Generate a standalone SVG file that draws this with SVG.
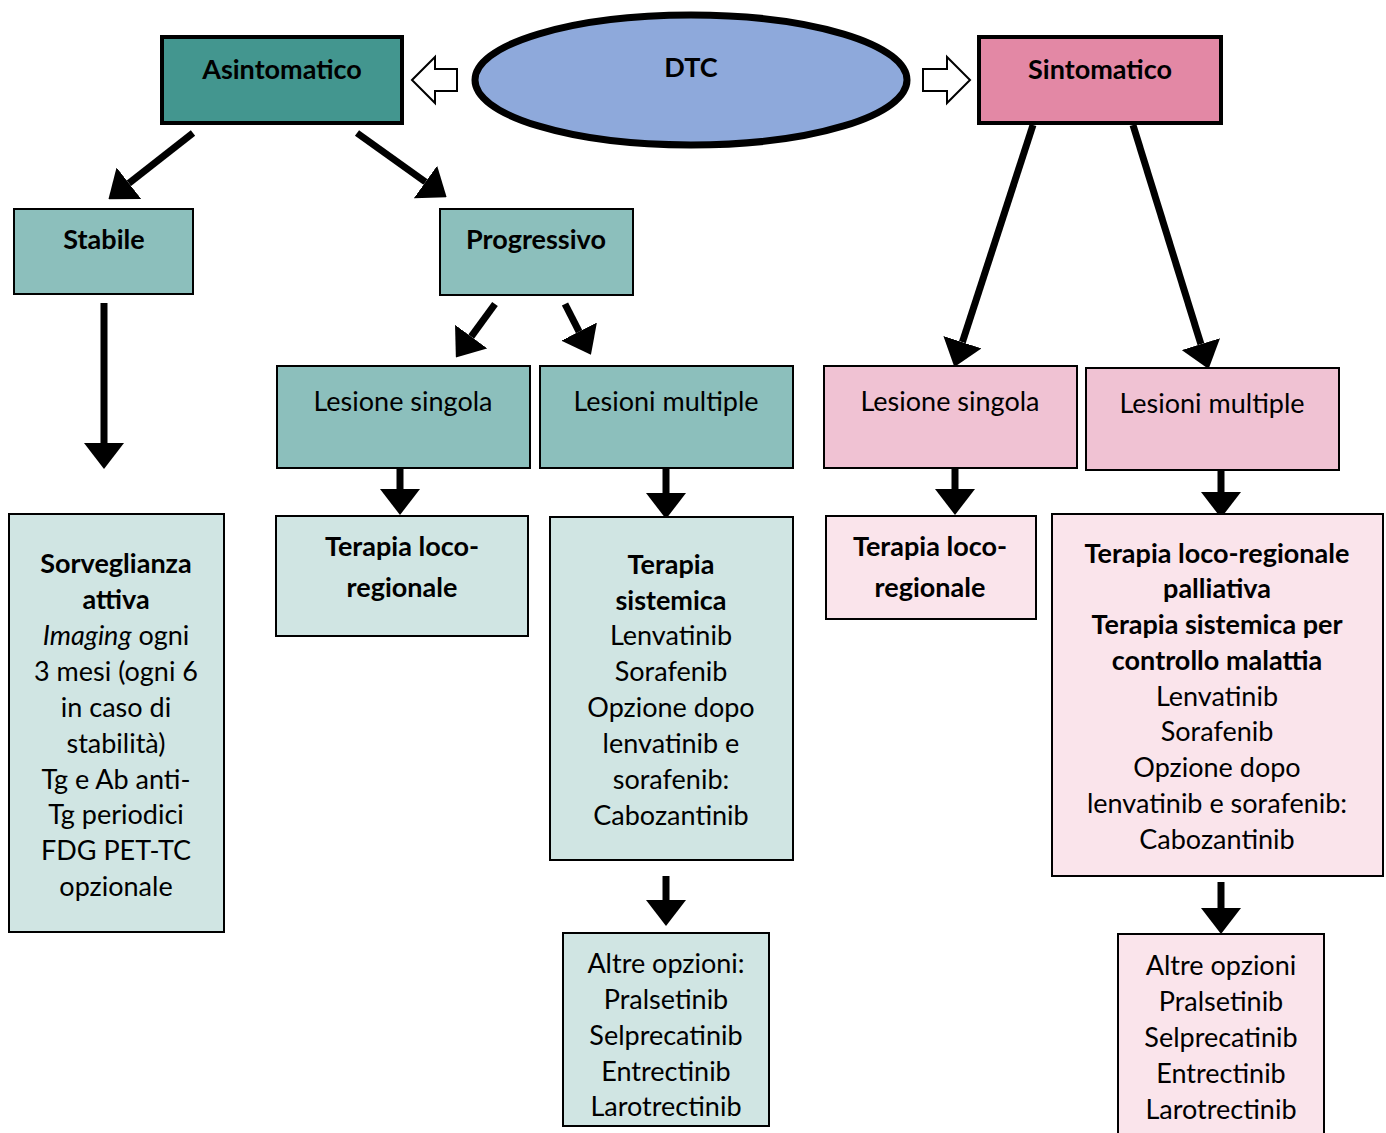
<svg xmlns="http://www.w3.org/2000/svg" width="1386" height="1133" viewBox="0 0 1386 1133">
<style>
text{font-family:Lato,"Liberation Sans",sans-serif;font-size:27px;fill:#000;text-anchor:middle}
.b{font-weight:bold}
.box{stroke:#000;stroke-width:2}
.thick{stroke:#000;stroke-width:4}
.teal{fill:#43968F}
.teal2{fill:#8CBFBC}
.teal3{fill:#D0E5E3}
.pink{fill:#E388A5}
.pink2{fill:#F0C2D3}
.pink3{fill:#FAE4EB}
.ar{stroke:#000;stroke-width:7;fill:none;marker-end:url(#h)}
.hol{fill:#fff;stroke:#000;stroke-width:2}
</style>
<defs>
<marker id="h" markerUnits="userSpaceOnUse" markerWidth="26" markerHeight="40" viewBox="0 0 26 40" refX="0" refY="20" orient="auto">
<path d="M0,0 L26,20 L0,40 Z" fill="#000"/>
</marker>
</defs>
<g id="connectors">
<polygon class="hol" points="412,80 435,57 435,69 457,69 457,91 435,91 435,103"/>
<polygon class="hol" points="923,69 947,69 947,57 970,80 947,103 947,91 923,91"/>
<line class="ar" x1="193" y1="133" x2="128.9" y2="183.2"/>
<line class="ar" x1="357" y1="133" x2="425.5" y2="182"/>
<line class="ar" x1="104" y1="303" x2="104" y2="443"/>
<line class="ar" x1="495" y1="304" x2="471.2" y2="336.6"/>
<line class="ar" x1="565" y1="304" x2="579.1" y2="331.6"/>
<line class="ar" x1="400" y1="469" x2="400" y2="489"/>
<line class="ar" x1="666" y1="469" x2="666" y2="493"/>
<line class="ar" x1="666" y1="876" x2="666" y2="900"/>
<line class="ar" x1="1033" y1="125" x2="962.4" y2="342.2"/>
<line class="ar" x1="1133" y1="125" x2="1200.9" y2="344.1"/>
<line class="ar" x1="955" y1="469" x2="955" y2="489"/>
<line class="ar" x1="1221" y1="471" x2="1221" y2="492"/>
<line class="ar" x1="1221" y1="882" x2="1221" y2="908"/>
</g>
<g id="dtc">
<ellipse cx="691" cy="80" rx="216" ry="65" fill="#8EA9DB" stroke="#000" stroke-width="7"/>
<text class="b" x="691" y="77">DTC</text>
</g>
<g id="asintomatico">
<rect class="thick teal" x="162" y="37" width="240" height="86"/>
<text class="b" x="282" y="79">Asintomatico</text>
</g>
<g id="sintomatico">
<rect class="thick pink" x="979" y="37" width="242" height="86"/>
<text class="b" x="1100" y="79">Sintomatico</text>
</g>
<g id="stabile">
<rect class="box teal2" x="14" y="209" width="179" height="85"/>
<text class="b" x="104" y="249">Stabile</text>
</g>
<g id="progressivo">
<rect class="box teal2" x="440" y="209" width="193" height="86"/>
<text class="b" x="536" y="249">Progressivo</text>
</g>
<g id="lesione-singola-a">
<rect class="box teal2" x="277" y="366" width="253" height="102"/>
<text x="403" y="411">Lesione singola</text>
</g>
<g id="lesioni-multiple-a">
<rect class="box teal2" x="540" y="366" width="253" height="102"/>
<text x="666" y="411">Lesioni multiple</text>
</g>
<g id="sorveglianza">
<rect class="box teal3" x="9" y="514" width="215" height="418"/>
<text class="b" x="116" y="573">Sorveglianza</text>
<text class="b" x="116" y="609">attiva</text>
<text x="116" y="645"><tspan font-style="italic">Imaging</tspan> ogni</text>
<text x="116" y="681">3 mesi (ogni 6</text>
<text x="116" y="717">in caso di</text>
<text x="116" y="753">stabilità)</text>
<text x="116" y="789">Tg e Ab anti-</text>
<text x="116" y="824">Tg periodici</text>
<text x="116" y="860">FDG PET-TC</text>
<text x="116" y="896">opzionale</text>
</g>
<g id="terapia-loco-a">
<rect class="box teal3" x="276" y="516" width="252" height="120"/>
<text class="b" x="402" y="556">Terapia loco-</text>
<text class="b" x="402" y="597">regionale</text>
</g>
<g id="terapia-sistemica-a">
<rect class="box teal3" x="550" y="517" width="243" height="343"/>
<text class="b" x="671" y="574">Terapia</text>
<text class="b" x="671" y="610">sistemica</text>
<text x="671" y="645">Lenvatinib</text>
<text x="671" y="681">Sorafenib</text>
<text x="671" y="717">Opzione dopo</text>
<text x="671" y="753">lenvatinib e</text>
<text x="671" y="789">sorafenib:</text>
<text x="671" y="825">Cabozantinib</text>
</g>
<g id="altre-a">
<rect class="box teal3" x="563" y="933" width="206" height="193"/>
<text x="666" y="973">Altre opzioni:</text>
<text x="666" y="1009">Pralsetinib</text>
<text x="666" y="1045">Selprecatinib</text>
<text x="666" y="1081">Entrectinib</text>
<text x="666" y="1116">Larotrectinib</text>
</g>
<g id="lesione-singola-s">
<rect class="box pink2" x="824" y="366" width="253" height="102"/>
<text x="950" y="411">Lesione singola</text>
</g>
<g id="lesioni-multiple-s">
<rect class="box pink2" x="1086" y="368" width="253" height="102"/>
<text x="1212" y="413">Lesioni multiple</text>
</g>
<g id="terapia-loco-s">
<rect class="box pink3" x="826" y="516" width="210" height="103"/>
<text class="b" x="930" y="556">Terapia loco-</text>
<text class="b" x="930" y="597">regionale</text>
</g>
<g id="terapia-sistemica-s">
<rect class="box pink3" x="1052" y="514" width="331" height="362"/>
<text class="b" x="1217" y="563">Terapia loco-regionale</text>
<text class="b" x="1217" y="598">palliativa</text>
<text class="b" x="1217" y="634">Terapia sistemica per</text>
<text class="b" x="1217" y="670">controllo malattia</text>
<text x="1217" y="706">Lenvatinib</text>
<text x="1217" y="741">Sorafenib</text>
<text x="1217" y="777">Opzione dopo</text>
<text x="1217" y="813">lenvatinib e sorafenib:</text>
<text x="1217" y="849">Cabozantinib</text>
</g>
<g id="altre-s">
<rect class="box pink3" x="1118" y="934" width="206" height="205"/>
<text x="1221" y="975">Altre opzioni</text>
<text x="1221" y="1011">Pralsetinib</text>
<text x="1221" y="1047">Selprecatinib</text>
<text x="1221" y="1083">Entrectinib</text>
<text x="1221" y="1119">Larotrectinib</text>
</g>
</svg>
